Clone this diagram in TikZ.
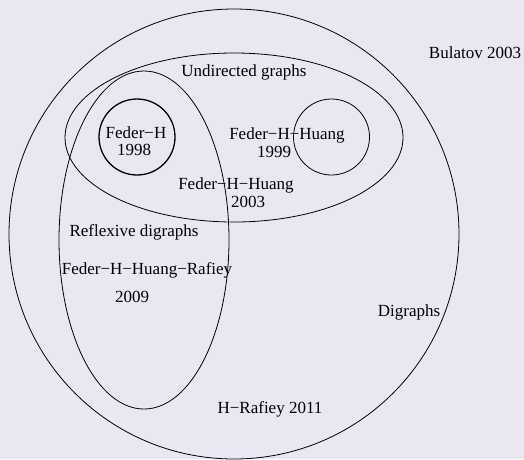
\documentclass[tikz,border=0pt]{standalone}
\usepackage{fontspec}
\setmainfont{Liberation Serif}
\usetikzlibrary{positioning}
\definecolor{bgcol}{RGB}{232,232,243}

\begin{document}
\begin{tikzpicture}[x=1pt, y=-1pt]
	\tikzset{
		lbl/.style={inner sep=0pt, font=\fontsize{17}{20}\selectfont},
		set/.style={line width=0.8pt},
		boldset/.style={line width=1.3pt}
	}
	\fill[bgcol] (0,0) rectangle (524,459);
	\useasboundingbox (0,0) rectangle (524,459);
	% the classes
	\draw[set] (234,234) circle (225);
	\draw[set] (234,137.5) ellipse (169 and 84.5);
	\draw[set] (144,240) ellipse (85 and 169);
	\draw[boldset] (137,137) circle (38);
	\draw[set] (331.5,137) circle (38);
	% the labels
	\node[lbl] (bul) at (475,53) {Bulatov 2003};
	\node[lbl] (undir) at (244,72) {Undirected graphs};
	\node[lbl] (fh) at (136,133) {Feder−H};
	\node[lbl] (fhyr) at (134,150) {1998};
	\node[lbl] (fhh) at (287,135) {Feder−H−Huang};
	\node[lbl] (fhhyr) at (274,152) {1999};
	\node[lbl] (fhhb) at (236,185) {Feder−H−Huang};
	\node[lbl] (fhhbyr) at (248,202) {2003};
	\node[lbl] (refl) at (134,232) {Reflexive digraphs};
	\node[lbl] (fhhr) at (147,270) {Feder−H−Huang−Rafiey};
	\node[lbl] (fhhryr) at (132,297) {2009};
	\node[lbl] (dig) at (409,312) {Digraphs};
	\node[lbl] (hr) at (270,409) {H−Rafiey 2011};
\end{tikzpicture}
\end{document}
